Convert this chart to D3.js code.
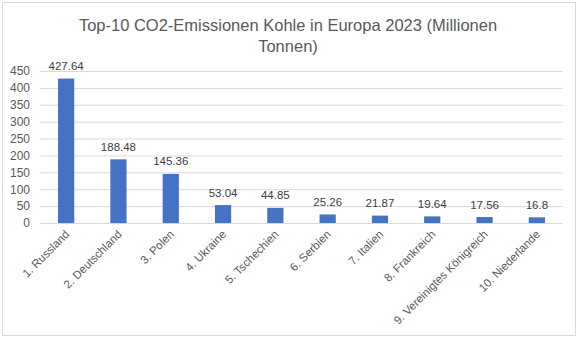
<!DOCTYPE html>
<html><head><meta charset="utf-8">
<script src="https://cdn.jsdelivr.net/npm/d3@7"></script>
<style>body{margin:0;background:#fff}svg{display:block}</style>
</head><body>
<script>
const categories = ["1. Russland","2. Deutschland","3. Polen","4. Ukraine","5. Tschechien","6. Serbien","7. Italien","8. Frankreich","9. Vereinigtes Königreich","10. Niederlande"];
const values = [427.64,188.48,145.36,53.04,44.85,25.26,21.87,19.64,17.56,16.8];
const yTicks = [0,50,100,150,200,250,300,350,400,450];
const titleLines = ["Top-10 CO2-Emissionen Kohle in Europa 2023 (Millionen","Tonnen)"];

const W=578,H=337;
const svg=d3.select("body").append("svg").attr("width",W).attr("height",H);
const font="Liberation Sans, Arial, sans-serif";
svg.append("rect").attr("x",2.5).attr("y",2.5).attr("width",W-5).attr("height",H-4).attr("fill","#fff").attr("stroke","#d9d9d9");

const x=d3.scaleBand().domain(categories).range([40,563]).paddingInner(0.69).paddingOuter(0.345);
const y=d3.scaleLinear().domain([0,450]).range([223,71]);

svg.append("g").selectAll("line").data(yTicks).join("line")
 .attr("x1",40).attr("x2",563).attr("y1",d=>y(d)+0.5).attr("y2",d=>y(d)+0.5)
 .attr("stroke","#d9d9d9");

const ya=svg.append("g").attr("transform","translate(40,0)").call(d3.axisLeft(y).tickValues(yTicks).tickSize(0).tickPadding(10));
ya.select(".domain").remove();
ya.selectAll("text").attr("font-family",font).attr("font-size",12).attr("fill","#595959");

svg.append("g").selectAll("rect").data(values).join("rect")
 .attr("x",(d,i)=>x(categories[i])).attr("width",x.bandwidth())
 .attr("y",d=>y(d)).attr("height",d=>y(0)-y(d)).attr("fill","#4472C4");

svg.append("g").selectAll("text").data(values).join("text")
 .attr("x",(d,i)=>x(categories[i])+x.bandwidth()/2).attr("y",d=>y(d)-8.5)
 .attr("text-anchor","middle").attr("font-family",font).attr("font-size",11.5).attr("fill","#404040")
 .text(d=>String(d));

const xa=svg.append("g").attr("transform","translate(0,223)").call(d3.axisBottom(x).tickSize(0).tickPadding(0));
xa.select(".domain").remove();
xa.selectAll("text").attr("font-family",font).attr("font-size",11.5).attr("fill","#595959")
 .attr("text-anchor","end").attr("dy",0).attr("transform","translate(4,12) rotate(-45)");

svg.append("g").selectAll("text").data(titleLines).join("text")
 .attr("x",288).attr("y",(d,i)=>31+i*21).attr("text-anchor","middle")
 .attr("font-family",font).attr("font-size",16.5).attr("fill","#595959").text(d=>d);
</script>
</body></html>
